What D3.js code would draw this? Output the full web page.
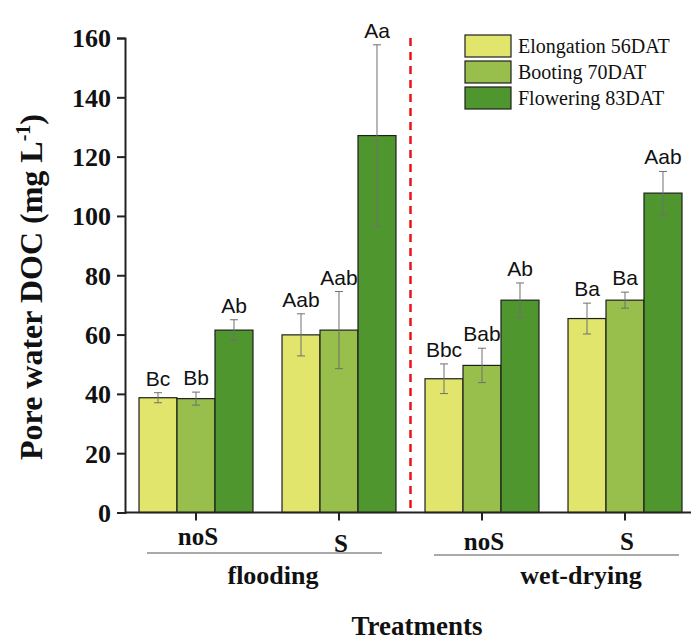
<!DOCTYPE html>
<html>
<head>
<meta charset="utf-8">
<script src="https://cdn.jsdelivr.net/npm/d3@7"></script>
<style>
  body { margin: 0; background: #fff; }
  svg { display: block; }
</style>
</head>
<body>
<svg id="chart" width="691" height="641"></svg>
<script>
// Treatment groups (sulfur level within water regime)
const groups = ["flooding-noS", "flooding-S", "wet-drying-noS", "wet-drying-S"];
const groupLabels = ["noS", "S", "noS", "S"];
const regimes = ["flooding", "wet-drying"];
const stages = ["Elongation 56DAT", "Booting 70DAT", "Flowering 83DAT"];
const stageColors = ["#e1e56b", "#98be4c", "#4f962e"];

// Mean pore water DOC (mg L-1) per group, one array per growth stage
const elongation = [38.7, 59.9, 45.1, 65.4];
const booting    = [38.4, 61.5, 49.6, 71.6];
const flowering  = [61.5, 127.1, 71.6, 107.7];
// Standard errors
const elongationErr = [1.7, 7.1, 5.0, 5.2];
const bootingErr    = [2.2, 13.0, 5.8, 2.7];
const floweringErr  = [3.5, 30.6, 5.8, 7.3];
// Significance letters
const elongationSig = ["Bc", "Aab", "Bbc", "Ba"];
const bootingSig    = ["Bb", "Aab", "Bab", "Ba"];
const floweringSig  = ["Ab", "Aa", "Ab", "Aab"];

const yTicks = [0, 20, 40, 60, 80, 100, 120, 140, 160];

const seriesValues = [elongation, booting, flowering];
const seriesErr = [elongationErr, bootingErr, floweringErr];
const seriesSig = [elongationSig, bootingSig, floweringSig];

const svg = d3.select("#chart");
const plotLeft = 125, plotTop = 38, plotBottom = 512.5, plotRight = 696;

const x = d3.scaleBand().domain(groups).range([plotLeft, plotRight])
  .paddingInner(0.203).paddingOuter(0.098);
const xs = d3.scaleBand().domain(d3.range(3)).range([0, x.bandwidth()]);
const y = d3.scaleLinear().domain([0, 160]).range([plotBottom, plotTop]);

const serif = "'Liberation Serif', 'Times New Roman', serif";
const sans = "'Liberation Sans', Arial, sans-serif";

// Bars
const data = [];
stages.forEach((s, si) => groups.forEach((g, gi) => data.push({
  g, si, v: seriesValues[si][gi], e: seriesErr[si][gi], sig: seriesSig[si][gi]
})));

svg.append("g").selectAll("rect").data(data).join("rect")
  .attr("x", d => x(d.g) + xs(d.si))
  .attr("y", d => y(d.v))
  .attr("width", xs.bandwidth())
  .attr("height", d => y(0) - y(d.v))
  .attr("fill", d => stageColors[d.si])
  .attr("stroke", "#1e1e1e")
  .attr("stroke-width", 1.2);

// Error bars
const eb = svg.append("g").attr("stroke", "#707070").attr("stroke-width", 1);
data.forEach(d => {
  const cx = x(d.g) + xs(d.si) + xs.bandwidth() / 2;
  eb.append("line").attr("x1", cx).attr("x2", cx).attr("y1", y(d.v + d.e)).attr("y2", y(d.v - d.e));
  [d.v + d.e, d.v - d.e].forEach(v => eb.append("line")
    .attr("x1", cx - 4).attr("x2", cx + 4).attr("y1", y(v)).attr("y2", y(v)));
});

// Significance letters
svg.append("g").selectAll("text").data(data).join("text")
  .attr("x", d => x(d.g) + xs(d.si) + xs.bandwidth() / 2)
  .attr("y", d => y(d.v + d.e) - 7)
  .attr("text-anchor", "middle")
  .attr("font-family", sans)
  .attr("font-size", 21)
  .attr("fill", "#111")
  .text(d => d.sig);

// Separator between water regimes
const sepX = (x(groups[1]) + x.bandwidth() + x(groups[2])) / 2;
svg.append("line")
  .attr("x1", sepX).attr("x2", sepX).attr("y1", y(160)).attr("y2", y(0))
  .attr("stroke", "#e8141a").attr("stroke-width", 2.5)
  .attr("stroke-dasharray", "8,6");

// Y axis
const yAxis = svg.append("g").attr("transform", `translate(${plotLeft},0)`)
  .call(d3.axisLeft(y).tickValues(yTicks).tickSize(8).tickPadding(6));
yAxis.select(".domain").attr("stroke", "#222").attr("stroke-width", 2);
yAxis.selectAll(".tick line").attr("stroke", "#222").attr("stroke-width", 2);
yAxis.selectAll("text").attr("font-family", serif).attr("font-weight", "bold")
  .attr("font-size", 26).attr("fill", "#111").attr("dy", "0.34em");

// X axis
const xAxis = svg.append("g").attr("transform", `translate(0,${plotBottom})`)
  .call(d3.axisBottom(x).tickSize(8).tickFormat(""));
xAxis.select(".domain").attr("d", `M${plotLeft},0H691`).attr("stroke", "#222").attr("stroke-width", 2);
xAxis.selectAll(".tick line").attr("stroke", "#222").attr("stroke-width", 2);

// Group labels
const groupLabelY = [545, 552, 550, 550];
svg.append("g").selectAll("text").data(groups).join("text")
  .attr("x", d => x(d) + x.bandwidth() / 2 + 2)
  .attr("y", (d, i) => groupLabelY[i])
  .attr("text-anchor", "middle")
  .attr("font-family", serif).attr("font-weight", "bold").attr("font-size", 25)
  .attr("fill", "#111")
  .text((d, i) => groupLabels[i]);

// Regime underlines and labels
const regimeSpans = [[147, 382, 553], [434, 679, 555]];
const regimeLabelX = [273, 581];
regimeSpans.forEach((s, i) => {
  svg.append("line").attr("x1", s[0]).attr("x2", s[1]).attr("y1", s[2]).attr("y2", s[2])
    .attr("stroke", "#555").attr("stroke-width", 1.2);
  svg.append("text")
    .attr("x", regimeLabelX[i])
    .attr("y", 584)
    .attr("text-anchor", "middle")
    .attr("font-family", serif).attr("font-weight", "bold").attr("font-size", 26)
    .attr("fill", "#111")
    .text(regimes[i]);
});

// Axis titles
svg.append("text")
  .attr("x", 417).attr("y", 635)
  .attr("text-anchor", "middle")
  .attr("font-family", serif).attr("font-weight", "bold").attr("font-size", 27)
  .attr("fill", "#111")
  .text("Treatments");

const yTitle = svg.append("text")
  .attr("transform", "translate(42,287) rotate(-90)")
  .attr("text-anchor", "middle")
  .attr("font-family", serif).attr("font-weight", "bold").attr("font-size", 32)
  .attr("fill", "#111");
yTitle.append("tspan").text("Pore water DOC (mg L");
yTitle.append("tspan").attr("dy", -12).attr("font-size", 20).text("-1");
yTitle.append("tspan").attr("dy", 12).text(")");

// Legend
const legend = svg.append("g").attr("transform", "translate(465,35)");
stages.forEach((s, i) => {
  const row = legend.append("g").attr("transform", `translate(0,${i * 26})`);
  row.append("rect").attr("width", 46).attr("height", 22)
    .attr("fill", stageColors[i]).attr("stroke", "#1e1e1e").attr("stroke-width", 1.2);
  row.append("text").attr("x", 53).attr("y", 18)
    .attr("font-family", serif).attr("font-size", 20).attr("fill", "#111")
    .text(s);
});
</script>
</body>
</html>
